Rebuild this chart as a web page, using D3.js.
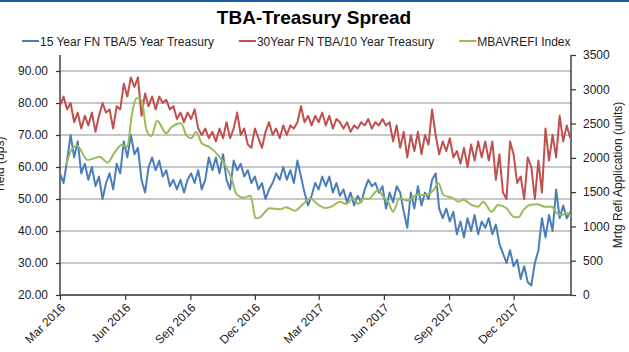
<!DOCTYPE html>
<html>
<head>
<meta charset="utf-8">
<script src="https://cdn.jsdelivr.net/npm/d3@7"></script>
<style>
  body { margin: 0; background: #fff; }
  svg { display: block; font-family: "Liberation Sans", Arial, sans-serif; }
</style>
</head>
<body>
<svg id="chart" width="629" height="352"></svg>
<script>
// series labels and colours
const seriesNames = ['15 Year FN TBA/5 Year Treasury', '30Year FN TBA/10 Year Treasury', 'MBAVREFI Index'];
const seriesColors = ['#4a7ebb', '#c0504d', '#9bbb59'];

// daily-ish spreads, one reading every 5 days from 1 Mar 2016
const spreadStart = '2016-03-01';
const spreadStepDays = 5;
const spread15 = [
    58, 55, 62, 70, 63, 68, 58, 61, 56, 60,
    54, 57, 50, 55, 58, 53, 61, 58, 68, 63,
    70, 64, 66, 56, 52, 60, 63, 59, 62, 57,
    59, 54, 56, 53, 56, 52, 56, 58, 55, 59,
    53, 56, 63, 59, 63, 58, 64, 56, 53, 62,
    59, 61, 57, 59, 55, 57, 53, 55, 50, 53,
    55, 58, 56, 60, 56, 59, 55, 62, 57, 52,
    48, 51, 55, 53, 57, 54, 57, 52, 55, 51,
    53, 49, 52, 48, 51, 49, 53, 56, 54, 55,
    52, 54, 47, 52, 49, 54, 52, 46, 41, 52,
    47, 54, 48, 52, 50, 56, 58, 47, 44, 47,
    43, 46, 39, 43, 38, 44, 40, 45, 39, 43,
    41, 44, 39, 42, 36, 33, 30, 34, 29, 31,
    25, 29, 24, 23, 30, 34, 44, 38, 45, 40,
    53, 44, 48, 44, 46
];
const spread30 = [
    79, 82, 78, 80, 74, 77, 72, 76, 73, 77,
    71, 76, 80, 77, 78, 72, 79, 78, 86, 82,
    88, 85, 88, 76, 83, 79, 82, 78, 82, 80,
    81, 78, 79, 75, 77, 74, 77, 75, 78, 72,
    70, 72, 69, 71, 68, 72, 69, 74, 69, 72,
    77, 70, 72, 67, 66, 72, 69, 66, 71, 74,
    70, 72, 69, 73, 70, 73, 72, 74, 79, 74,
    76, 73, 76, 74, 77, 73, 76, 72, 75, 74,
    72, 74, 71, 73, 72, 74, 73, 75, 72, 74,
    73, 75, 73, 74, 68, 73, 66, 71, 63, 70,
    65, 71, 64, 70, 67, 78, 70, 64, 68, 65,
    69, 63, 65, 61, 66, 60, 67, 62, 68, 63,
    68, 62, 68, 56, 64, 52, 50, 68, 64, 55,
    57, 50, 63, 60, 50, 62, 52, 72, 62, 70,
    63, 76, 68, 73, 69
];

// weekly refi index (right axis)
const refiDates = [
    '2016-03-10', '2016-03-17', '2016-03-25', '2016-04-09', '2016-04-26', '2016-05-07',
    '2016-05-17', '2016-05-27', '2016-06-04', '2016-06-10', '2016-06-17', '2016-06-24',
    '2016-07-01', '2016-07-08', '2016-07-16', '2016-07-29', '2016-08-05', '2016-08-19',
    '2016-08-26', '2016-09-02', '2016-09-09', '2016-09-17', '2016-09-28', '2016-10-10',
    '2016-10-20', '2016-10-29', '2016-11-05', '2016-11-15', '2016-11-25', '2016-12-02',
    '2016-12-08', '2016-12-22', '2017-01-05', '2017-01-14', '2017-01-26', '2017-02-07',
    '2017-02-17', '2017-02-26', '2017-03-10', '2017-03-19', '2017-03-31', '2017-04-09',
    '2017-04-19', '2017-04-26', '2017-05-03', '2017-05-10', '2017-05-24', '2017-05-31',
    '2017-06-07', '2017-06-14', '2017-06-23', '2017-07-05', '2017-07-17', '2017-07-31',
    '2017-08-10', '2017-08-17', '2017-08-24', '2017-09-07', '2017-09-14', '2017-09-21',
    '2017-10-03', '2017-10-12', '2017-10-19', '2017-10-31', '2017-11-09', '2017-11-21',
    '2017-12-01', '2017-12-08', '2017-12-15', '2017-12-24', '2018-01-03', '2018-01-14',
    '2018-01-24', '2018-01-31', '2018-02-07', '2018-02-14', '2018-02-20'
];
const refiValues = [
    1896, 2115, 2177, 1969, 2017, 1930,
    2075, 2187, 2163, 2600, 2868, 2844,
    2406, 2318, 2542, 2358, 2445, 2504,
    2333, 2285, 2381, 2212, 2154, 2041,
    1896, 1700, 1470, 1420, 1448, 1118,
    1133, 1264, 1250, 1279, 1230, 1327,
    1410, 1337, 1269, 1288, 1361, 1327,
    1410, 1327, 1410, 1400, 1531, 1433,
    1360, 1215, 1410, 1375, 1458, 1458,
    1531, 1629, 1458, 1410, 1360, 1390,
    1312, 1288, 1361, 1215, 1312, 1264,
    1142, 1133, 1240, 1312, 1322, 1288,
    1288, 1191, 1167, 1191, 1142
];

// axes
const xTickDates = ['2016-03-01', '2016-06-01', '2016-09-01', '2016-12-01',
    '2017-03-01', '2017-06-01', '2017-09-01', '2017-12-01'];
const xDomain = ['2016-03-01', '2018-02-20'];
const leftTicks = [20, 30, 40, 50, 60, 70, 80, 90];
const leftDomain = [20, 95];
const rightTicks = [0, 500, 1000, 1500, 2000, 2500, 3000, 3500];
const rightDomain = [0, 3500];

const parse = d3.timeParse('%Y-%m-%d');
const fmtTick = d3.timeFormat('%b %Y');

const svg = d3.select('#chart');
const W = 629, H = 352;
const plot = {left: 60, right: 571, top: 55, bottom: 295};

svg.append('rect').attr('x', 0).attr('y', 0).attr('width', W).attr('height', 2).attr('fill', '#1f5aa6');

const x = d3.scaleTime().domain(xDomain.map(parse)).range([plot.left, plot.right]);
const yL = d3.scaleLinear().domain(leftDomain).range([plot.bottom, plot.top]);
const yR = d3.scaleLinear().domain(rightDomain).range([plot.bottom, plot.top]);

// gridlines
svg.append('g')
    .selectAll('line')
    .data(leftTicks.slice(1))
    .join('line')
    .attr('x1', plot.left).attr('x2', plot.right)
    .attr('y1', d => yL(d)).attr('y2', d => yL(d))
    .attr('stroke', '#b4b4b4').attr('stroke-width', 1.6);

// left axis
const leftAxis = svg.append('g')
    .attr('transform', `translate(${plot.left},0)`)
    .call(d3.axisLeft(yL).tickValues(leftTicks).tickFormat(d3.format('.2f')).tickSize(4).tickPadding(8));

// right axis
const rightAxis = svg.append('g')
    .attr('transform', `translate(${plot.right},0)`)
    .call(d3.axisRight(yR).tickValues(rightTicks).tickFormat(d3.format('d')).tickSize(5).tickPadding(7));

// bottom axis
const bottomAxis = svg.append('g')
    .attr('transform', `translate(0,${plot.bottom})`)
    .call(d3.axisBottom(x).tickValues(xTickDates.map(parse)).tickFormat(fmtTick).tickSize(5).tickPadding(4));
bottomAxis.selectAll('text')
    .attr('text-anchor', 'end')
    .attr('transform', 'translate(-6,2) rotate(-45)')
    .attr('dy', '0.6em');

[leftAxis, rightAxis, bottomAxis].forEach(g => {
    g.select('.domain').attr('stroke', '#333').attr('stroke-width', 1.4);
    g.selectAll('.tick line').attr('stroke', '#333').attr('stroke-width', 1.2);
    g.selectAll('text').attr('font-size', 12).attr('fill', '#222')
        .attr('font-family', '"Liberation Sans", Arial, sans-serif');
});
// axis lines span exactly the plot box
leftAxis.select('.domain').attr('d', `M0,${plot.top}V${plot.bottom}`);
rightAxis.select('.domain').attr('d', `M0,${plot.top}V${plot.bottom}`);
bottomAxis.select('.domain').attr('d', `M${plot.left},0H${plot.right}`);

// series
const start = parse(spreadStart);
const spreadLine = d3.line()
    .x((d, i) => x(d3.timeDay.offset(start, i * spreadStepDays)))
    .y(d => yL(d));

svg.append('path').datum(spread15)
    .attr('d', spreadLine).attr('fill', 'none')
    .attr('stroke', seriesColors[0]).attr('stroke-width', 2).attr('stroke-linejoin', 'round');
svg.append('path').datum(spread30)
    .attr('d', spreadLine).attr('fill', 'none')
    .attr('stroke', seriesColors[1]).attr('stroke-width', 2).attr('stroke-linejoin', 'round');

const refiLine = d3.line()
    .x((d, i) => x(parse(refiDates[i])))
    .y(d => yR(d))
    .curve(d3.curveMonotoneX);
svg.append('path').datum(refiValues)
    .attr('d', refiLine).attr('fill', 'none')
    .attr('stroke', seriesColors[2]).attr('stroke-width', 2).attr('stroke-linejoin', 'round');

// title
svg.append('text')
    .attr('x', 314).attr('y', 24)
    .attr('text-anchor', 'middle')
    .attr('font-size', 19).attr('font-weight', 'bold').attr('fill', '#000')
    .text('TBA-Treasury Spread');

// legend
let lx = 22;
seriesNames.forEach((name, i) => {
    const g = svg.append('g');
    g.append('line')
        .attr('x1', lx).attr('x2', lx + 17)
        .attr('y1', 41).attr('y2', 41)
        .attr('stroke', seriesColors[i]).attr('stroke-width', 2);
    const t = g.append('text')
        .attr('x', lx + 18).attr('y', 45.5)
        .attr('font-size', 12).attr('fill', '#222')
        .text(name);
    lx += 18 + t.node().getComputedTextLength() + 25;
});

// axis titles (the left one is clipped by the image edge, as in the original)
svg.append('text')
    .attr('transform', 'translate(4,165) rotate(-90)')
    .attr('text-anchor', 'middle')
    .attr('font-size', 12).attr('fill', '#222')
    .text('Yield (bps)');
svg.append('text')
    .attr('transform', 'translate(622,175) rotate(-90)')
    .attr('text-anchor', 'middle')
    .attr('font-size', 12).attr('fill', '#222')
    .text('Mrtg Refi Application (units)');
</script>
</body>
</html>
